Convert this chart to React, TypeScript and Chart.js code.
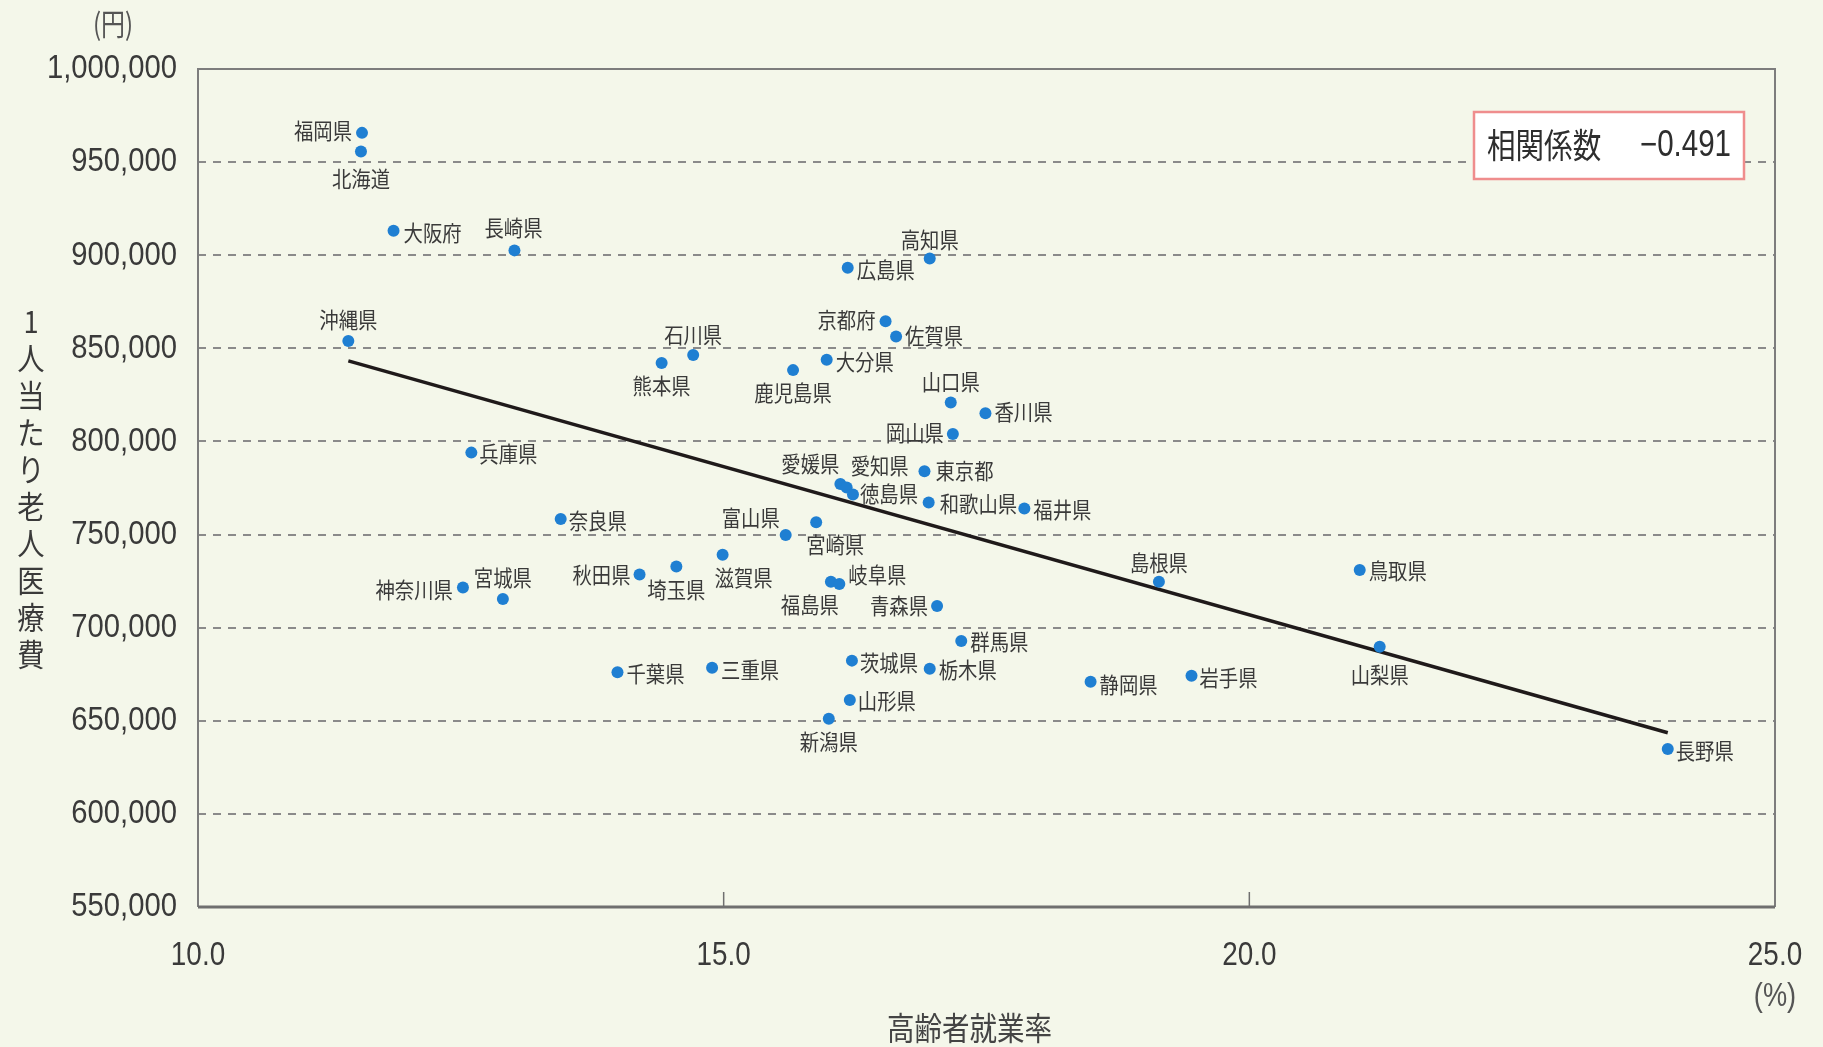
import { useEffect, useRef } from "react";
import { Chart, registerables } from "chart.js";

Chart.register(...registerables);

const W = 1823;
const H = 1047;

// ---- data ----
const prefectures = [
  "福岡県", "北海道", "大阪府", "長崎県", "沖縄県", "石川県", "熊本県", "鹿児島県", "大分県", "広島県",
  "高知県", "京都府", "佐賀県", "山口県", "香川県", "岡山県", "兵庫県", "愛媛県", "愛知県", "徳島県",
  "東京都", "和歌山県", "福井県", "奈良県", "富山県", "宮崎県", "滋賀県", "埼玉県", "秋田県", "宮城県",
  "神奈川県", "福島県", "岐阜県", "青森県", "群馬県", "茨城県", "栃木県", "山形県", "新潟県", "千葉県",
  "三重県", "静岡県", "岩手県", "島根県", "鳥取県", "山梨県", "長野県",
];
const employmentRate = [
  11.56, 11.55, 11.86, 13.01, 11.43, 14.71, 14.41, 15.66, 15.98, 16.18,
  16.96, 16.54, 16.64, 17.16, 17.49, 17.18, 12.6, 16.11, 16.17, 16.23,
  16.91, 16.95, 17.86, 13.45, 15.59, 15.88, 14.99, 14.55, 14.2, 12.9,
  12.52, 16.02, 16.1, 17.03, 17.26, 16.22, 16.96, 16.2, 16.0, 13.99,
  14.89, 18.49, 19.45, 19.14, 21.05, 21.24, 23.98,
];
const medicalCost = [
  965700, 955700, 913200, 902600, 853900, 846400, 842100, 838300, 843900, 893300,
  898300, 864500, 856400, 820900, 815200, 804000, 794000, 777200, 775300, 771500,
  784000, 767200, 764000, 758400, 749700, 756600, 739100, 732800, 728500, 715400,
  721600, 724700, 723500, 711600, 692900, 682300, 677900, 661100, 651100, 676000,
  678500, 671000, 674200, 724700, 731000, 689800, 634800,
];
const trendX = [11.43, 23.98];
const trendY = [843300, 643600];
const xTickValues = [10, 15, 20, 25];
const yMin = 550000;
const yMax = 1000000;
const yStep = 50000;
const correlationLabel = "相関係数";
const correlationValue = "−0.491";
const yTitle = "1人当たり老人医療費";
const xTitle = "高齢者就業率";
const yUnit = "(円)";
const xUnit = "(%)";

// label placement: [align, dx, dy] relative to the point
const labelLayout: Record<string, [CanvasTextAlign, number, number]> = {
  福岡県: ["right", -10, -2], 北海道: ["center", 0, 27], 大阪府: ["left", 10, 2], 長崎県: ["center", -1, -23],
  沖縄県: ["center", 0, -21], 石川県: ["center", 0, -20], 熊本県: ["center", 0, 23], 鹿児島県: ["center", 0, 23],
  大分県: ["left", 9, 2], 広島県: ["left", 9, 2], 高知県: ["center", 0, -19], 京都府: ["right", -10, -2],
  佐賀県: ["left", 9, -1], 山口県: ["center", 0, -21], 香川県: ["left", 9, -1], 岡山県: ["right", -9, -1],
  兵庫県: ["left", 8, 1], 愛媛県: ["center", -30, -20], 愛知県: ["center", 33, -22], 徳島県: ["left", 7, -1],
  東京都: ["left", 11, -1], 和歌山県: ["left", 11, 1], 福井県: ["left", 9, 1], 奈良県: ["left", 8, 2],
  富山県: ["center", -35, -17], 宮崎県: ["center", 19, 22], 滋賀県: ["center", 21, 23], 埼玉県: ["center", 0, 23],
  秋田県: ["right", -9, 0], 宮城県: ["center", 0, -21], 神奈川県: ["right", -10, 2], 福島県: ["center", -21, 23],
  岐阜県: ["left", 9, -9], 青森県: ["right", -9, 0], 群馬県: ["left", 9, 1], 茨城県: ["left", 8, 2],
  栃木県: ["left", 9, 1], 山形県: ["left", 8, 1], 新潟県: ["center", 0, 23], 千葉県: ["left", 9, 1],
  三重県: ["left", 9, 2], 静岡県: ["left", 9, 3], 岩手県: ["left", 8, 2], 島根県: ["center", 0, -19],
  鳥取県: ["left", 9, 1], 山梨県: ["center", 0, 28], 長野県: ["left", 8, 2],
};

const CJK = "'Noto Sans CJK JP', 'Noto Sans', sans-serif";
const LAT = "'Liberation Sans', Arimo, sans-serif";
const TEXT = "#363636";
const BG = "#f4f7ea";

function drawText(
  ctx: CanvasRenderingContext2D,
  text: string,
  x: number,
  y: number,
  font: string,
  align: CanvasTextAlign,
  sx: number,
  color = TEXT
) {
  ctx.save();
  ctx.font = font;
  ctx.fillStyle = color;
  ctx.textAlign = align;
  ctx.textBaseline = "middle";
  ctx.translate(x, y);
  ctx.scale(sx, 1);
  ctx.fillText(text, 0, 0);
  ctx.restore();
}

const bgPlugin = {
  id: "bg",
  beforeDraw(chart: any) {
    const ctx = chart.ctx;
    ctx.save();
    ctx.fillStyle = BG;
    ctx.fillRect(0, 0, chart.width, chart.height);
    ctx.restore();
  },
};

const framePlugin = {
  id: "frame",
  beforeDatasetsDraw(chart: any) {
    const { ctx, chartArea: a, scales } = chart;
    ctx.save();
    ctx.strokeStyle = "#7d7d7d";
    ctx.lineWidth = 2;
    ctx.beginPath();
    ctx.moveTo(a.left, a.bottom);
    ctx.lineTo(a.left, a.top);
    ctx.lineTo(a.right, a.top);
    ctx.lineTo(a.right, a.bottom);
    ctx.stroke();
    ctx.strokeStyle = "#6f6f6f";
    ctx.lineWidth = 3;
    ctx.beginPath();
    ctx.moveTo(a.left, a.bottom);
    ctx.lineTo(a.right, a.bottom);
    ctx.stroke();
    ctx.lineWidth = 1.5;
    for (const v of xTickValues.slice(1, -1)) {
      const px = scales.x.getPixelForValue(v);
      ctx.beginPath();
      ctx.moveTo(px, a.bottom);
      ctx.lineTo(px, a.bottom - 15);
      ctx.stroke();
    }
    ctx.restore();

    // tick labels (condensed, like the original typeface)
    scales.y.ticks.forEach((t: any) => {
      const py = scales.y.getPixelForValue(t.value);
      drawText(ctx, Number(t.value).toLocaleString("en-US"), a.left - 21, py, `34px ${LAT}`, "right", 0.86, "#3a3a3a");
    });
    scales.x.ticks.forEach((t: any) => {
      const px = scales.x.getPixelForValue(t.value);
      drawText(ctx, Number(t.value).toFixed(1), px, 956, `34px ${LAT}`, "center", 0.82, "#3a3a3a");
    });
  },
};

const labelPlugin = {
  id: "pointLabels",
  afterDatasetsDraw(chart: any) {
    const ctx = chart.ctx;
    const meta = chart.getDatasetMeta(1);
    meta.data.forEach((el: any, i: number) => {
      const name = prefectures[i];
      const [align, dx, dy] = labelLayout[name] || ["left", 9, 0];
      drawText(ctx, name, el.x + dx, el.y + dy, `22px ${CJK}`, align, 0.88, "#3a3a3a");
    });
  },
};

const annotationPlugin = {
  id: "annotations",
  afterDraw(chart: any) {
    const { ctx, chartArea: a, scales } = chart;
    // correlation box
    const bx = a.right - 301;
    const by = a.top + 43;
    const bw = 270;
    const bh = 67;
    ctx.save();
    ctx.fillStyle = "#ffffff";
    ctx.fillRect(bx, by, bw, bh);
    ctx.strokeStyle = "#ef8d8d";
    ctx.lineWidth = 2.5;
    ctx.strokeRect(bx, by, bw, bh);
    ctx.restore();
    drawText(ctx, correlationLabel, bx + 13, by + 33, `34px ${CJK}`, "left", 0.84, "#2e2e2e");
    drawText(ctx, correlationValue, bx + 257, by + 34, `36px ${LAT}`, "right", 0.82, "#2e2e2e");

    // y unit
    drawText(ctx, yUnit, a.left - 85, 24, `30px ${CJK}`, "center", 0.8, "#555");
    // x unit
    drawText(ctx, xUnit, scales.x.getPixelForValue(25), 997, `34px ${LAT}`, "center", 0.8, "#555");
    // x title
    drawText(ctx, xTitle, (a.left + a.right) / 2 - 17, 1028, `32px ${CJK}`, "center", 0.86, "#444");
    // y title (vertical writing)
    const chars = Array.from(yTitle);
    chars.forEach((ch, i) => {
      drawText(ctx, ch, 31, 321 + i * 37, `31px ${CJK}`, "center", 0.88, "#3a3a3a");
    });
  },
};

export default function App() {
  const ref = useRef<HTMLCanvasElement>(null);

  useEffect(() => {
    const canvas = ref.current!;
    const points = employmentRate.map((x, i) => ({ x, y: medicalCost[i] }));
    const trend = trendX.map((x, i) => ({ x, y: trendY[i] }));

    const chart = new Chart(canvas, {
      type: "scatter",
      data: {
        datasets: [
          {
            type: "line",
            data: trend,
            borderColor: "#1f1a1a",
            borderWidth: 3.5,
            pointRadius: 0,
            fill: false,
            order: 2,
          } as any,
          {
            data: points,
            backgroundColor: "#1f7fd2",
            borderWidth: 0,
            pointRadius: 6,
            pointHoverRadius: 6,
            order: 1,
          },
        ],
      },
      options: {
        animation: false,
        responsive: false,
        events: [],
        layout: { padding: { left: 0, right: 48, top: 69, bottom: 0 } },
        plugins: { legend: { display: false }, tooltip: { enabled: false } },
        scales: {
          x: {
            type: "linear",
            min: xTickValues[0],
            max: xTickValues[xTickValues.length - 1],
            afterBuildTicks: (s: any) => {
              s.ticks = xTickValues.map((value) => ({ value }));
            },
            grid: { display: false, drawTicks: false },
            border: { display: false },
            ticks: {
              padding: 0,
              color: "rgba(0,0,0,0)",
              font: { family: LAT, size: 20 },
              callback: (v: any) => Number(v).toFixed(1),
            },
            afterFit: (s: any) => {
              s.height = H - 907;
              s.paddingLeft = 0;
              s.paddingRight = 0;
            },
          },
          y: {
            type: "linear",
            min: yMin,
            max: yMax,
            ticks: {
              stepSize: yStep,
              padding: 0,
              color: "rgba(0,0,0,0)",
              font: { family: LAT, size: 20 },
              callback: (v: any) => Number(v).toLocaleString("en-US"),
            },
            grid: {
              drawTicks: false,
              lineWidth: 2,
              color: (c: any) =>
                c.tick && (c.tick.value === yMin || c.tick.value === yMax) ? "rgba(0,0,0,0)" : "#8a8a8a",
            },
            border: { display: false, dash: [8, 7] },
            afterFit: (s: any) => {
              s.width = 198;
              s.paddingTop = 0;
              s.paddingBottom = 0;
            },
          },
        },
      },
      plugins: [bgPlugin, framePlugin, labelPlugin, annotationPlugin],
    });
    return () => chart.destroy();
  }, []);

  return (
    <div style={{ position: "fixed", left: 0, top: 0, width: W, height: H, background: BG }}>
      <canvas ref={ref} width={W} height={H} style={{ display: "block", width: W, height: H }} />
    </div>
  );
}
